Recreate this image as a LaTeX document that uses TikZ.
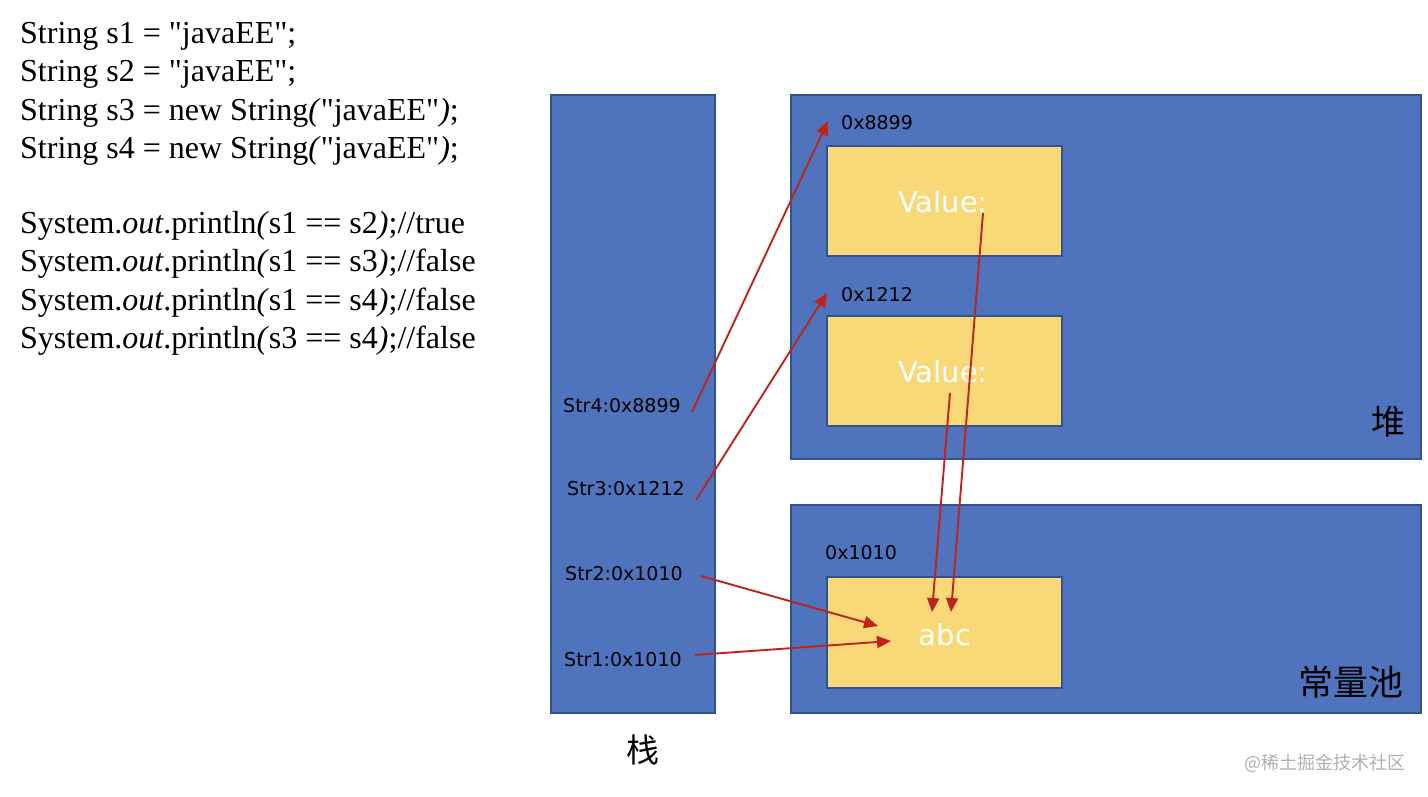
\documentclass[tikz,border=0pt]{standalone}
\usepackage{fontspec}
\setmainfont{Liberation Serif}[Ligatures=TeXOff]
\newfontfamily\labfont{DejaVu Sans}
\newfontfamily\cjk{Noto Sans CJK SC}
\usetikzlibrary{arrows.meta}
\definecolor{blockblue}{RGB}{79,116,189}
\definecolor{blockedge}{RGB}{52,82,140}
\definecolor{valyellow}{RGB}{249,216,120}
\definecolor{arrowred}{RGB}{188,36,28}
\definecolor{wmgray}{RGB}{175,175,175}
\tikzset{
  region/.style={draw=blockedge,line width=1.8pt,fill=blockblue},
  cell/.style={draw=blockedge,line width=1.5pt,fill=valyellow},
  codeline/.style={anchor=base west,inner sep=0pt,font=\fontsize{32}{32}\selectfont},
  lab/.style={anchor=base west,inner sep=0pt,font=\labfont\fontsize{19}{19}\selectfont,text=black},
  val/.style={inner sep=0pt,font=\labfont\fontsize{29}{29}\selectfont,text=white},
  cjklab/.style={inner sep=0pt,font=\cjk\fontsize{34}{34}\selectfont,text=black},
  ptr/.style={draw=arrowred,line width=1.9pt,-{Triangle[length=14pt,width=12pt]}},
}
\begin{document}
\begin{tikzpicture}[x=1pt,y=-1pt]
\useasboundingbox (0,0) rectangle (1428,796);
% code
\node[codeline] (c1) at (20,43) {String s1 = "javaEE";};
\node[codeline] (c2) at (20,81.5) {String s2 = "javaEE";};
\node[codeline] (c3) at (20,120) {String s3 = new String\textit{(}"javaEE"\textit{)};};
\node[codeline] (c4) at (20,158.5) {String s4 = new String\textit{(}"javaEE"\textit{)};};
\node[codeline] (c5) at (20,233) {System.\textit{out}.println\textit{(}s1 == s2\textit{)};//true};
\node[codeline] (c6) at (20,271.5) {System.\textit{out}.println\textit{(}s1 == s3\textit{)};//false};
\node[codeline] (c7) at (20,310) {System.\textit{out}.println\textit{(}s1 == s4\textit{)};//false};
\node[codeline] (c8) at (20,348.5) {System.\textit{out}.println\textit{(}s3 == s4\textit{)};//false};
% regions
\draw[region] (551,95) rectangle (715,713);
\draw[region] (791,95) rectangle (1421,459);
\draw[region] (791,505) rectangle (1421,713);
\draw[cell] (827,146) rectangle (1062,256);
\draw[cell] (827,316) rectangle (1062,426);
\draw[cell] (827,577) rectangle (1062,688);
% labels
\node[lab] (s4) at (563,412) {Str4:0x8899};
\node[lab] (s3) at (567,495) {Str3:0x1212};
\node[lab] (s2) at (565,580) {Str2:0x1010};
\node[lab] (s1) at (564,666) {Str1:0x1010};
\node[lab] (a8899) at (841,129) {0x8899};
\node[lab] (a1212) at (841,301) {0x1212};
\node[lab] (a1010) at (825,559) {0x1010};
\node[val] (v1) at (943,202) {Value:};
\node[val] (v2) at (943,372) {Value:};
\node[val] (abc) at (945,635) {abc};
\node[cjklab] (heap) at (1388,422) {堆};
\node[cjklab,font=\cjk\fontsize{35}{35}\selectfont] (pool) at (1351,682) {常量池};
\node[cjklab,font=\cjk\fontsize{33}{33}\selectfont] (stack) at (643,750) {栈};
\node[inner sep=0pt,font=\cjk\fontsize{18}{18}\selectfont,text=wmgray] (wm) at (1325,763) {@稀土掘金技术社区};
% arrow endpoints
\coordinate (p4s) at (692,412);
\coordinate (p4e) at (828,121);
\coordinate (p3s) at (696,500);
\coordinate (p3e) at (827,293);
\coordinate (p2s) at (701,576);
\coordinate (p2e) at (878,626);
\coordinate (p1s) at (695,655);
\coordinate (p1e) at (891,641);
\coordinate (v1s) at (983,213);
\coordinate (v1e) at (951,612);
\coordinate (v2s) at (950,393);
\coordinate (v2e) at (932,612);
\draw[ptr] (p4s) -- (p4e);
\draw[ptr] (p3s) -- (p3e);
\draw[ptr] (p2s) -- (p2e);
\draw[ptr] (p1s) -- (p1e);
\draw[ptr] (v1s) -- (v1e);
\draw[ptr] (v2s) -- (v2e);
\end{tikzpicture}
\end{document}
